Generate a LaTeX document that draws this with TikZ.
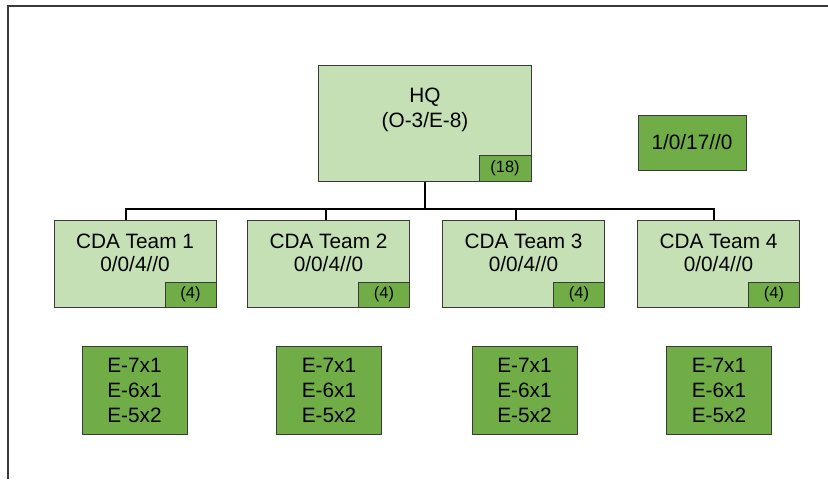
\documentclass[tikz,border=0pt]{standalone}
\usepackage{fontspec}
\setmainfont{Liberation Sans}
\usetikzlibrary{%
  positioning,
  calc
}

\definecolor{lightgreen}{HTML}{C5E0B4}
\definecolor{darkgreen}{HTML}{70AD47}
\definecolor{edgegray}{HTML}{3A3A3A}

\tikzset{
  unitbox/.style={draw=edgegray, line width=0.5pt, fill=lightgreen, inner sep=0pt},
  rankbox/.style={draw=edgegray, line width=0.5pt, fill=darkgreen, inner sep=0pt,
                  minimum width=52.5pt, minimum height=44pt, align=center,
                  font=\fontsize{10.4}{12.5}\selectfont},
  countbox/.style={draw=edgegray, line width=0.5pt, fill=darkgreen, inner sep=0pt,
                   anchor=south east, font=\fontsize{8.2}{9}\selectfont},
  unittext/.style={align=center, inner sep=0pt},
  link/.style={black, line width=1pt},
  frame/.style={draw=edgegray, line width=1pt}
}

\begin{document}
\begin{tikzpicture}[x=0.5pt, y=-0.5pt]

  \useasboundingbox (0,0) rectangle (828,479);

  % outer frame
  \draw[frame] (828,6) -- (8,6) -- (8,479);

  % headquarters
  \node[unitbox, minimum width=106.5pt, minimum height=58pt] (hq) at (424.5,123) {};
  \node[unittext, font=\fontsize{10.4}{12.5}\selectfont] (hqtext) at (425,109.5) {HQ\\(O-3/E-8)};
  \node[countbox, minimum width=26pt, minimum height=13pt] (hqcount) at (hq.south east) {(18)};

  % totals
  \node[rankbox, minimum width=54pt, minimum height=27.5pt] (total) at (692,142.5) {1/0/17//0};

  % teams
  \foreach \i/\x/\ex in {1/135/134.5, 2/328.5/329, 3/523.5/524.5, 4/718.5/719} {
    \node[unitbox, minimum width=81pt, minimum height=43.5pt] (t\i) at (\x,263.5) {};
    \node[unittext, font=\fontsize{10.4}{11.5}\selectfont] (t\i text) at (\x,252.5) {CDA Team \i\\0/0/4//0};
    \node[countbox, minimum width=25.5pt, minimum height=12.5pt] (t\i count) at (t\i.south east) {(4)};
    \node[rankbox] (r\i) at (\ex,390) {E-7x1\\E-6x1\\E-5x2};
  }

  % connectors
  \coordinate (bus) at (425,209);
  \coordinate (d1) at ([xshift=-4.5pt]t1.north);
  \coordinate (d2) at ([xshift=-1.25pt]t2.north);
  \coordinate (d3) at ([xshift=-3.75pt]t3.north);
  \coordinate (d4) at ([xshift=-2.25pt]t4.north);

  \draw[link] (hq.south) -- (hq.south |- bus);
  \draw[link] (d1) -- (d1 |- bus) -- (d4 |- bus) -- (d4);
  \draw[link] (d2) -- (d2 |- bus);
  \draw[link] (d3) -- (d3 |- bus);

\end{tikzpicture}
\end{document}
